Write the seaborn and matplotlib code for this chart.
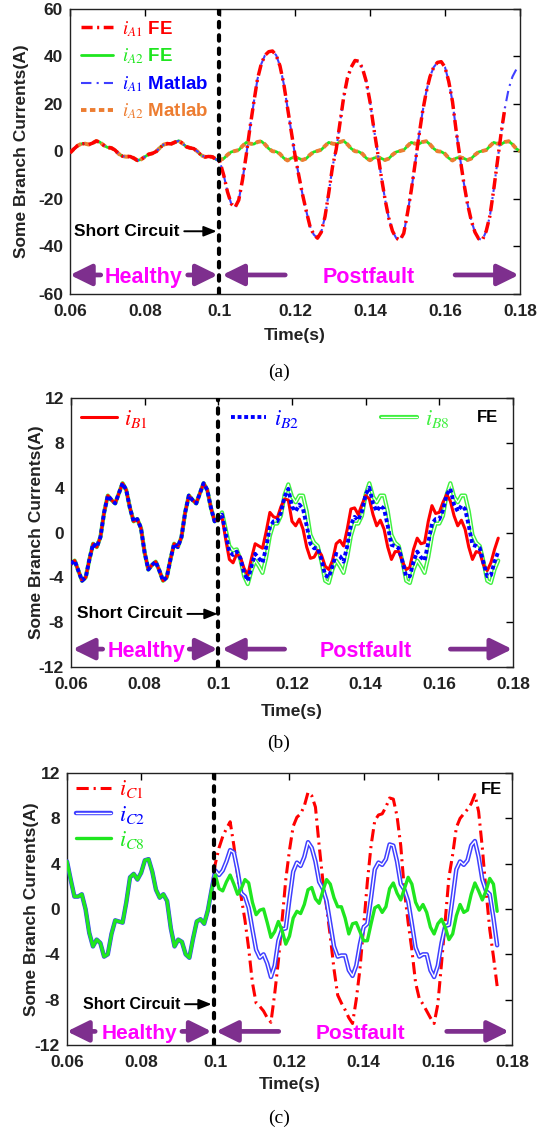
import numpy as np
import matplotlib
matplotlib.use('Agg')
import matplotlib.pyplot as plt
import matplotlib.patheffects as pe
import seaborn as sns

# ---------------- data (1 ms samples) ----------------
T0 = 0.060          # first sample
DT = 0.001          # sample step
T_FAULT = 0.0997    # short circuit instant

# (a) healthy part, iA1 = iA2  (0.060 .. 0.099)
iA_healthy = [-0.6, 1.0, 2.4, 3.2, 3.3, 2.9, 3.5, 4.4, 3.9, 2.6,
              1.7, 1.5, 0.6, -1.0, -2.0, -2.2, -2.1, -2.8, -3.8, -3.3,
              -2.2, -1.2, -0.8, 0.0, 1.6, 2.9, 3.3, 3.2, 3.9, 4.5,
              3.4, 2.0, 1.5, 1.2, 0.0, -1.6, -2.3, -2.1, -2.3, -3.4]
# (a) postfault iA1 (0.100 .. 0.180)
iA1_post = [-4.5, -10.0, -17.0, -22.0, -23.6, -20.5, -12.0, -1.5, 10.0, 20.5,
            30.5, 36.8, 40.5, 42.0, 42.3, 40.5, 36.0, 28.5, 18.5, 8.5,
            -1.5, -10.0, -18.0, -25.0, -31.5, -35.0, -36.5, -34.0, -27.5, -17.5,
            -6.5, 1.0, 12.0, 23.0, 31.0, 35.5, 38.3, 38.0, 35.0, 29.5,
            21.0, 10.0, 0.0, -10.5, -20.0, -28.0, -33.5, -36.5, -37.3, -34.5,
            -26.0, -16.5, -5.5, 6.0, 16.5, 25.0, 31.5, 35.5, 37.5, 37.8,
            35.5, 29.5, 21.0, 8.5, -2.5, -13.0, -22.0, -29.0, -34.0, -36.8,
            -37.2, -33.5, -27.0, -16.0, -4.0, 8.0, 18.5, 26.5, 31.5, 34.5,
            36.0]
# (a) postfault iA2 (0.100 .. 0.180)
iA2_post = [-3.6, -3.0, -1.4, -0.2, 0.2, 0.6, 2.3, 3.8, 3.3, 3.1,
            4.0, 4.3, 3.0, 1.2, 0.1, -0.1, -1.0, -2.8, -3.8, -2.8,
            -2.4, -2.9, -3.6, -3.0, -1.4, -0.2, 0.2, 0.7, 2.3, 3.8,
            3.3, 3.1, 4.0, 4.4, 3.0, 1.2, 0.1, -0.1, -1.0, -2.8,
            -3.7, -2.8, -2.4, -2.9, -3.6, -3.0, -1.4, -0.2, 0.2, 0.6,
            2.3, 3.8, 3.3, 3.1, 4.0, 4.3, 3.0, 1.2, 0.1, -0.1,
            -1.0, -2.8, -3.8, -2.8, -2.4, -2.9, -3.6, -3.0, -1.4, -0.2,
            0.2, 0.6, 2.3, 3.8, 3.3, 3.1, 4.0, 4.3, 3.0, 1.2,
            0.1]
FE_A1_END = 0.176   # FE trace of iA1 stops a little before the axis end

# (b) healthy part, iB1 = iB2 = iB8  (0.060 .. 0.099)
iB_healthy = [-2.8, -2.5, -3.4, -4.3, -4.0, -2.4, -1.0, -1.3, -0.4, 1.8,
              3.3, 2.9, 2.6, 3.5, 4.4, 3.8, 2.2, 1.0, 1.2, 0.4,
              -1.8, -3.3, -2.9, -2.6, -3.4, -4.3, -4.0, -2.4, -1.0, -1.3,
              -0.4, 1.8, 3.3, 2.9, 2.6, 3.5, 4.4, 3.8, 2.2, 1.0]
# (b) postfault (0.100 .. 0.176)
iB1_post = [1.2, 1.4, -0.6, -2.4, -2.7, -1.9, -2.2, -3.2, -3.8, -2.3,
            -1.0, -1.2, -1.4, 0.1, 1.8, 1.4, 1.3, 2.3, 3.0, 2.9,
            1.0, 0.6, 1.2, 0.3, -1.3, -2.3, -2.2, -1.6, -2.0, -3.0,
            -3.3, -2.5, -1.0, -0.7, -1.2, 0.3, 2.1, 2.2, 1.6, 2.5,
            3.3, 3.0, 1.6, 0.6, 1.1, 0.3, -1.3, -2.4, -1.7, -1.7,
            -2.6, -3.3, -3.1, -1.5, -0.5, -1.0, -0.9, 1.0, 2.4, 1.7,
            1.8, 2.7, 3.4, 2.8, 1.5, 0.6, 1.1, 0.3, -1.3, -2.4,
            -1.7, -1.8, -2.9, -3.4, -2.7, -1.5, -0.5]
iB2_post = [1.2, 1.6, -0.1, -1.7, -2.0, -1.7, -2.3, -3.6, -4.3, -3.0,
            -1.9, -2.3, -2.7, -1.3, 0.5, 1.0, 1.0, 1.8, 3.2, 3.9,
            2.3, 1.9, 2.5, 2.1, 0.6, -1.0, -1.4, -1.4, -2.4, -3.8,
            -4.0, -3.0, -1.9, -2.1, -2.6, -1.2, 0.7, 1.4, 1.1, 1.9,
            3.4, 4.0, 2.6, 1.9, 2.4, 2.1, 0.6, -1.1, -1.2, -1.4,
            -2.6, -3.9, -3.9, -2.6, -1.7, -2.2, -2.5, -0.9, 0.8, 1.2,
            1.2, 2.0, 3.4, 3.9, 2.5, 1.9, 2.4, 2.1, 0.6, -1.1,
            -1.2, -1.4, -2.7, -3.9, -3.8, -2.6, -1.7]
iB8_post = [1.2, 1.8, 0.3, -1.2, -1.6, -1.5, -2.4, -3.9, -4.6, -3.4,
            -2.5, -3.0, -3.6, -2.2, -0.3, 0.8, 0.8, 1.5, 3.4, 4.3,
            3.2, 2.7, 3.3, 3.3, 1.9, -0.2, -0.9, -1.2, -2.6, -4.3,
            -4.5, -3.3, -2.5, -3.0, -3.6, -2.2, -0.3, 0.8, 0.8, 1.5,
            3.4, 4.4, 3.2, 2.7, 3.3, 3.3, 1.9, -0.2, -0.9, -1.2,
            -2.6, -4.3, -4.5, -3.3, -2.5, -3.0, -3.6, -2.2, -0.3, 0.8,
            0.8, 1.5, 3.4, 4.4, 3.2, 2.7, 3.3, 3.3, 1.9, -0.2,
            -0.9, -1.2, -2.6, -4.3, -4.5, -3.3, -2.5]

# (c) healthy part, iC1 = iC2 = iC8  (0.060 .. 0.099)
iC_healthy = [4.2, 2.6, 1.1, 1.1, 1.3, 0.0, -2.1, -3.3, -2.7, -3.0,
              -4.2, -4.0, -2.2, -1.0, -1.1, -1.2, 0.6, 2.8, 3.1, 2.6,
              3.2, 4.3, 4.4, 3.3, 1.7, 1.0, 1.3, 0.7, -1.7, -3.3,
              -2.7, -2.9, -4.0, -4.3, -2.6, -1.1, -0.9, -1.3, -0.1, 1.7]
# (c) postfault (0.100 .. 0.176)
iC1_post = [4.0, 5.4, 6.4, 7.1, 7.7, 5.6, 3.0, 1.0, -1.0, -3.5,
            -6.5, -8.3, -8.6, -9.0, -9.6, -10.0, -7.5, -4.6, -1.0, 2.6,
            5.2, 7.3, 8.1, 8.4, 9.1, 10.3, 10.0, 9.0, 5.6, 2.5,
            0.2, -2.4, -5.3, -7.6, -8.3, -8.9, -9.6, -10.1, -8.0, -5.3,
            -1.5, 2.4, 5.6, 7.8, 8.3, 8.4, 9.0, 9.8, 9.7, 8.2,
            5.6, 1.6, -1.2, -3.6, -6.5, -7.9, -8.4, -9.0, -9.6, -10.1,
            -8.4, -4.8, -1.0, 2.8, 4.8, 7.2, 8.0, 8.4, 8.8, 9.3,
            10.1, 8.6, 5.4, 1.6, -1.8, -4.2, -6.8]
iC2_post = [3.4, 3.0, 3.4, 4.2, 5.2, 5.0, 3.4, 1.4, 1.1, 0.1,
            -1.8, -3.6, -4.3, -4.0, -4.8, -6.0, -5.0, -2.8, -1.8, -1.7,
            0.9, 3.3, 4.1, 3.8, 4.6, 5.9, 5.4, 4.2, 2.4, 1.8,
            0.7, -1.3, -3.3, -4.2, -4.1, -4.1, -5.4, -5.9, -5.0, -3.1,
            -1.6, -1.3, 1.0, 3.5, 4.1, 3.9, 4.4, 5.7, 5.6, 4.2,
            2.2, 1.7, 0.7, -1.3, -3.4, -4.2, -4.0, -4.0, -5.4, -6.0,
            -5.0, -3.0, -1.5, -1.4, 1.0, 3.5, 4.2, 3.9, 4.3, 5.6,
            6.0, 4.6, 2.6, 1.6, 1.3, -0.8, -3.2]
iC8_post = [3.0, 1.8, 1.6, 2.4, 3.0, 2.2, 1.3, 1.8, 2.6, 2.3,
            0.6, -0.5, -0.1, 0.0, -1.2, -2.5, -2.0, -1.1, -1.9, -3.1,
            -2.4, -0.8, -0.2, -0.4, 0.4, 1.7, 1.9, 0.9, 0.5, 1.6,
            2.6, 2.2, 1.0, 0.2, 0.2, -0.8, -2.2, -1.3, -1.2, -2.0,
            -2.8, -2.8, -1.3, 0.1, 0.3, -0.3, 0.2, 1.8, 2.3, 1.4,
            0.8, 1.8, 2.8, 2.2, 0.6, -0.1, 0.4, -0.3, -1.6, -2.2,
            -1.3, -0.9, -1.6, -2.7, -2.2, -0.6, 0.4, -0.3, -0.1, 1.3,
            2.3, 1.6, 0.8, 1.6, 2.7, 2.2, -0.2]

XTICKS = [0.06, 0.08, 0.10, 0.12, 0.14, 0.16, 0.18]
XTICKLABELS = ['0.06', '0.08', '0.1', '0.12', '0.14', '0.16', '0.18']

RED = '#ff0000'
GREEN = '#1fe61f'
LGREEN = '#40f040'
BLUE = '#0000ff'
MBLUE = '#3f3fff'
ORANGE = '#ed7d31'
PURPLE = '#7e2f8e'
MAGENTA = '#ff00ff'


def series(healthy, post):
    vals = np.array(healthy + post)
    t = np.round(T0 + DT * np.arange(len(vals)), 4)
    return t, vals


def line(ax, t, v, **kw):
    sns.lineplot(x=t, y=v, ax=ax, estimator=None, errorbar=None,
                 sort=False, legend=False, **kw)


def style_axes(ax, ylim, yticks, xlab_y, ylab_x):
    ax.set_xlim(0.06, 0.18)
    ax.set_ylim(*ylim)
    ax.set_xticks(XTICKS)
    ax.set_xticklabels(XTICKLABELS)
    ax.set_yticks(yticks)
    ax.tick_params(direction='in', top=True, right=True, length=5,
                   width=1.0, labelsize=12.5, colors='black')
    ax.tick_params(axis='x', pad=7)
    ax.tick_params(axis='y', pad=5)
    for lab in ax.get_xticklabels() + ax.get_yticklabels():
        lab.set_fontweight('bold')
        lab.set_color('#222222')
    for s in ax.spines.values():
        s.set_color('#222222')
        s.set_linewidth(1.0)
    ax.set_xlabel('Time(s)', fontsize=12.5, fontweight='bold', color='#222222')
    ax.set_ylabel('Some Branch Currents(A)', fontsize=12.5,
                  fontweight='bold', color='#222222')
    ax.xaxis.set_label_coords(0.5, xlab_y)
    ax.yaxis.set_label_coords(ylab_x, 0.5)


def arrow(ax, x_tail, x_head, y, color, lw, scale, hl, hw):
    ax.annotate('', xy=(x_head, y), xytext=(x_tail, y),
                arrowprops=dict(arrowstyle=f'-|>,head_length={hl},head_width={hw}',
                                color=color, lw=lw, mutation_scale=scale,
                                shrinkA=0, shrinkB=0), zorder=6)


def phases(ax, y, healthy, post, size):
    hx, harrows = healthy
    px, parrows = post
    ax.text(hx, y, 'Healthy', color=MAGENTA, fontsize=size, fontweight='bold',
            ha='center', va='center_baseline', zorder=6)
    ax.text(px, y, 'Postfault', color=MAGENTA, fontsize=size, fontweight='bold',
            ha='center', va='center_baseline', zorder=6)
    for x0, x1 in harrows + parrows:
        arrow(ax, x0, x1, y, PURPLE, 3.4, 20, 0.65, 0.32)


def short_circuit(ax, x_text, x_head, y, size):
    ax.annotate('Short Circuit', xy=(x_head, y), xytext=(x_text, y),
                ha='left', va='center', fontsize=size, fontweight='bold',
                color='black', zorder=6,
                arrowprops=dict(arrowstyle='-|>,head_length=0.55,head_width=0.22',
                                color='black', lw=1.4, mutation_scale=14,
                                shrinkA=1, shrinkB=0))


def fault_line(ax, x):
    ax.axvline(x, color='black', lw=3.0, linestyle=(0, (1.3, 1.9)),
               dash_capstyle='round', zorder=5)


sns.set_theme(style='white')
plt.rcParams['font.family'] = ['Liberation Sans', 'DejaVu Sans']
plt.rcParams['mathtext.fontset'] = 'stix'
plt.rcParams['axes.unicode_minus'] = False

fig = plt.figure(figsize=(5.55, 11.35), dpi=100)
fig.patch.set_facecolor('white')

# ---------------- (a) ----------------
ax = fig.add_axes([0.1261, 0.7410, 0.8108, 0.2511])
t1, a1 = series(iA_healthy, iA1_post)
t2, a2 = series(iA_healthy, iA2_post)
fe_mask = t1 <= FE_A1_END + 1e-9
LA = [r'$i_{\mathit{A1}}$ FE', r'$i_{\mathit{A2}}$ FE',
      r'$i_{\mathit{A1}}$ Matlab', r'$i_{\mathit{A2}}$ Matlab']
line(ax, t2, a2, color=GREEN, linewidth=2.0, linestyle='-', label=LA[1], zorder=2)
line(ax, t2, a2, color=ORANGE, linewidth=2.8, linestyle=(0, (1.4, 0.9)),
     label=LA[3], zorder=3)
line(ax, t1, a1, color=MBLUE, linewidth=1.5, linestyle=(0, (5, 2.5, 1, 2.5)),
     label=LA[2], zorder=3)
line(ax, t1[fe_mask], a1[fe_mask], color=RED, linewidth=2.5,
     linestyle=(0, (3.2, 1.3, 0.6, 1.3)), label=LA[0], zorder=4)
fault_line(ax, T_FAULT)
style_axes(ax, (-60, 60), [-60, -40, -20, 0, 20, 40, 60], -0.118, -0.092)
short_circuit(ax, 0.0611, 0.0991, -33.6, 12.5)
phases(ax, -52, (0.0797, [(0.0682, 0.0600), (0.0914, 0.0994)]),
       (0.1396, [(0.1174, 0.1006), (0.1627, 0.1797)]), 15.5)
lines = {l.get_label(): l for l in ax.get_lines()}
leg = ax.legend([lines[k] for k in LA], LA, loc='upper left',
                bbox_to_anchor=(0.025, 0.965), frameon=False,
                prop={'weight': 'bold', 'size': 13.5}, handlelength=1.7,
                handletextpad=0.5, labelspacing=0.42, borderpad=0, borderaxespad=0)
for txt, c in zip(leg.get_texts(), [RED, GREEN, BLUE, ORANGE]):
    txt.set_color(c)

# ---------------- (b) ----------------
ax = fig.add_axes([0.1279, 0.4123, 0.7964, 0.2370])
tb, b8 = series(iB_healthy, iB8_post)
_, b1 = series(iB_healthy, iB1_post)
_, b2 = series(iB_healthy, iB2_post)
LB = [r'$i_{\mathit{B1}}$', r'$i_{\mathit{B2}}$', r'$i_{\mathit{B8}}$']
line(ax, tb, b8, color='white', linewidth=0.9, label=LB[2], zorder=2,
     path_effects=[pe.Stroke(linewidth=3.0, foreground=LGREEN), pe.Normal()])
line(ax, tb, b1, color=RED, linewidth=2.2, label=LB[0], zorder=3)
line(ax, tb, b2, color=BLUE, linewidth=2.8, linestyle=(0, (1.0, 0.7)),
     label=LB[1], zorder=4)
fault_line(ax, 0.1000)
style_axes(ax, (-12, 12), [-12, -8, -4, 0, 4, 8, 12], -0.138, -0.062)
short_circuit(ax, 0.0617, 0.0998, -7.26, 12.5)
phases(ax, -10.4, (0.0804, [(0.0686, 0.0605), (0.0921, 0.0998)]),
       (0.1400, [(0.1180, 0.1010), (0.1630, 0.1798)]), 15.5)
lines = {l.get_label(): l for l in ax.get_lines()}
leg = ax.legend([lines[k] for k in LB], LB, loc='center left',
                bbox_to_anchor=(0.023, 0.922), frameon=False, ncol=3,
                prop={'size': 16}, handlelength=1.6, handletextpad=0.35,
                columnspacing=3.7, borderpad=0, borderaxespad=0)
for txt, c in zip(leg.get_texts(), [RED, BLUE, LGREEN]):
    txt.set_color(c)
ax.text(0.943, 0.929, 'FE', transform=ax.transAxes, fontsize=12,
        fontweight='bold', ha='center', va='center', color='black')

# ---------------- (c) ----------------
ax = fig.add_axes([0.1207, 0.0793, 0.8018, 0.2396])
tc, c1 = series(iC_healthy, iC1_post)
_, c2 = series(iC_healthy, iC2_post)
_, c8 = series(iC_healthy, iC8_post)
LC = [r'$i_{\mathit{C1}}$', r'$i_{\mathit{C2}}$', r'$i_{\mathit{C8}}$']
line(ax, tc, c1, color=RED, linewidth=2.2, linestyle=(0, (4.0, 1.6, 0.7, 1.6)),
     label=LC[0], zorder=2)
line(ax, tc, c2, color='white', linewidth=1.0, label=LC[1], zorder=3,
     path_effects=[pe.Stroke(linewidth=3.2, foreground=MBLUE), pe.Normal()])
line(ax, tc, c8, color=GREEN, linewidth=2.4, label=LC[2], zorder=4)
fault_line(ax, T_FAULT)
style_axes(ax, (-12, 12), [-12, -8, -4, 0, 4, 8, 12], -0.118, -0.064)
short_circuit(ax, 0.0643, 0.0990, -8.4, 11.5)
phases(ax, -10.8, (0.0795, [(0.0676, 0.0600), (0.0910, 0.0990)]),
       (0.1390, [(0.1171, 0.1002), (0.1624, 0.1792)]), 15)
lines = {l.get_label(): l for l in ax.get_lines()}
leg = ax.legend([lines[k] for k in LC], LC, loc='upper left',
                bbox_to_anchor=(0.02, 0.98), frameon=False,
                prop={'size': 16}, handlelength=1.6, handletextpad=0.35,
                labelspacing=0.15, borderpad=0, borderaxespad=0)
for txt, c in zip(leg.get_texts(), [RED, BLUE, GREEN]):
    txt.set_color(c)
ax.text(0.955, 0.941, 'FE', transform=ax.transAxes, fontsize=12,
        fontweight='bold', ha='center', va='center', color='black')

# ---------------- captions ----------------
for label, y in [('(a)', 372), ('(b)', 743), ('(c)', 1118)]:
    fig.text(279 / 555, 1 - y / 1135, label, ha='center', va='center',
             fontsize=14, family='Liberation Serif', color='black')

fig.savefig('out.png', dpi=100, facecolor='white')
